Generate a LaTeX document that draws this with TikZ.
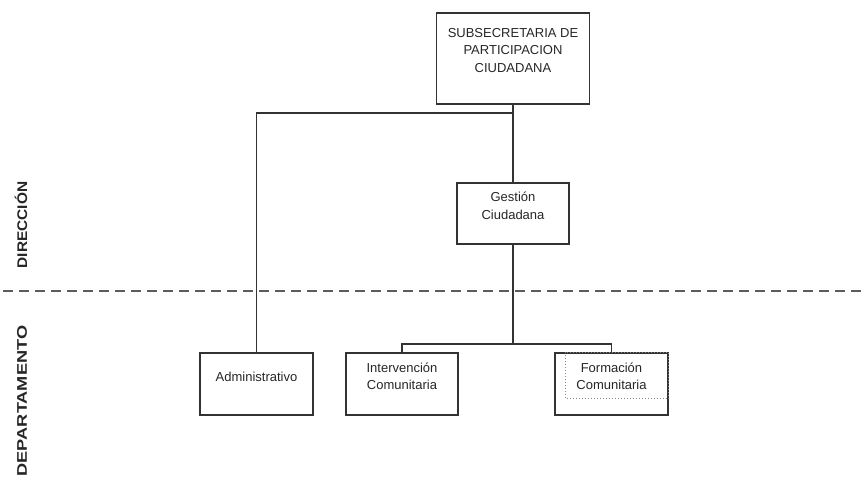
\documentclass[tikz,border=0pt]{standalone}
\usepackage{fontspec}
\setmainfont{Liberation Sans}
\usepackage{graphicx}
\definecolor{linea}{HTML}{333333}
\definecolor{testo}{HTML}{262626}
\begin{document}
\begin{tikzpicture}[x=1pt,y=-1pt,
    box/.style={draw=linea, line width=1.5pt, minimum height=62pt, inner sep=0pt},
    txt/.style={text=testo, align=center, inner sep=0pt, font=\fontsize{13}{17.5}\selectfont},
    lev/.style={rotate=90, text=testo, inner sep=0pt, font=\bfseries\fontsize{14}{14}\selectfont},
    conn/.style={draw=linea, line width=1.5pt},
    limite/.style={draw=linea!80, line width=1.3pt, dash pattern=on 10pt off 6pt},
    puntini/.style={draw=linea!60, line width=1pt, dotted}]
    \useasboundingbox (0,0) rectangle (867,477);
    %livelli
    \node[lev] (dir) at (21,225) {\scalebox{1.1}[1]{DIRECCIÓN}};
    \node[lev] (dep) at (22,401) {\scalebox{1.3}[1]{DEPARTAMENTO}};
    \coordinate (limsx) at (3,291);
    \coordinate (limdx) at (867,291);
    \draw[limite] (limsx) -- (limdx);
    %subsecretaria
    \node[box, minimum width=153pt, minimum height=91pt] (sub) at (513,58.5) {};
    \node[txt] (subtxt) at ([yshift=8]sub.center) {SUBSECRETARIA DE\\PARTICIPACION\\CIUDADANA};
    %direccion
    \node[box, minimum width=112pt, minimum height=61pt] (ges) at (513,213.5) {};
    \node[txt] (gestxt) at ([yshift=7.5]ges.center) {Gestión\\Ciudadana};
    %departamenti
    \node[box, minimum width=113pt] (adm) at (256.5,384) {};
    \node[txt] (admtxt) at ([yshift=7]adm.center) {Administrativo};
    \node[box, minimum width=112pt] (inter) at (402,384) {};
    \node[txt] (intertxt) at ([yshift=7.5]inter.center) {Intervención\\Comunitaria};
    \node[box, minimum width=113pt] (form) at (611.5,384) {};
    \node[txt] (formtxt) at ([yshift=7.5]form.center) {Formación\\Comunitaria};
    \draw[puntini] ([xshift=11]form.north west) rectangle ([yshift=17]form.south east);
    %collegamenti
    \coordinate (ramo) at (513,113);
    \coordinate (barra) at (513,344);
    \draw[conn] (sub.south) -- (ges.north);
    \draw[conn] (ramo) -| (adm.north);
    \draw[conn] (ges.south) -- (barra);
    \draw[conn] (barra) -| (inter.north);
    \draw[conn] (barra) -| (form.north);
\end{tikzpicture}
\end{document}
